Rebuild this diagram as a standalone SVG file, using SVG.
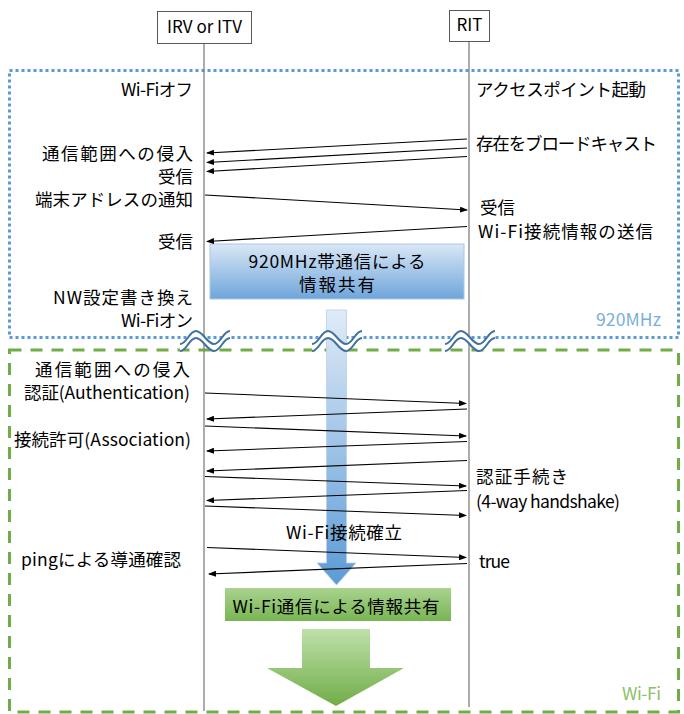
<svg xmlns="http://www.w3.org/2000/svg" width="684" height="714" viewBox="0 0 684 714">
<defs>
<style>
text{font-family:"Noto Sans CJK JP","Noto Sans",sans-serif;font-size:17.5px;fill:#000}
.e{text-anchor:end}
.m{text-anchor:middle}
.life{stroke:#808080;stroke-width:1.3;fill:none}
.box{fill:#fff;stroke:#595959;stroke-width:1}
.msg{stroke:#000;stroke-width:1.1;fill:none;marker-end:url(#ah)}
.wave{fill:none;stroke:#41719c;stroke-width:2}
</style>
<marker id="ah" markerUnits="userSpaceOnUse" markerWidth="8" markerHeight="6" refX="7" refY="3" orient="auto">
<path d="M0,0 L8,3 L0,6 Z" fill="#000"/>
</marker>
<linearGradient id="gb" x1="0" y1="0" x2="0" y2="1">
<stop offset="0" stop-color="#dae7f6"/>
<stop offset="1" stop-color="#6ea5da"/>
</linearGradient>
<linearGradient id="gshaft" gradientUnits="userSpaceOnUse" x1="0" y1="310" x2="0" y2="585">
<stop offset="0" stop-color="#e1ebf7"/>
<stop offset="1" stop-color="#5b9bd5"/>
</linearGradient>
<linearGradient id="gg" x1="0" y1="0" x2="0" y2="1">
<stop offset="0" stop-color="#a9d38f"/>
<stop offset="1" stop-color="#78b553"/>
</linearGradient>
<linearGradient id="gga" gradientUnits="userSpaceOnUse" x1="0" y1="629" x2="0" y2="706">
<stop offset="0" stop-color="#bfe0ab"/>
<stop offset="1" stop-color="#70ad47"/>
</linearGradient>
<g id="wv">
<path d="M-25,6 C-18,6 -16,-7 -9,-7 C-2,-7 2,6 9,6 C16,6 18,-7 25,-7 L25,0 C18,0 16,13 9,13 C2,13 -2,0 -9,0 C-16,0 -18,13 -25,13 Z" fill="#fff"/>
<path class="wave" d="M-25,6 C-18,6 -16,-7 -9,-7 C-2,-7 2,6 9,6 C16,6 18,-7 25,-7"/>
<path class="wave" d="M-25,13 C-18,13 -16,0 -9,0 C-2,0 2,13 9,13 C16,13 18,0 25,0"/>
</g>
</defs>
<rect width="684" height="714" fill="#fff"/>

<g id="frame-920">
<rect x="9.5" y="70.5" width="669" height="267" fill="none" stroke="#5b9bd5" stroke-width="3" stroke-dasharray="3 3"/>
<text class="e" x="661" y="326" textLength="65" style="fill:#7aaedd">920MHz</text>
</g>
<g id="frame-wifi">
<rect x="9.5" y="350" width="669" height="362" fill="none" stroke="#70ad47" stroke-width="3" stroke-dasharray="12 9"/>
<text class="e" x="661" y="700" textLength="39" style="fill:#8cc168">Wi-Fi</text>
</g>

<g id="info920">
<rect x="210" y="244" width="254" height="55" fill="url(#gb)" stroke="#a9c8e8" stroke-width="1"/>
<text class="m" x="337" y="268" textLength="177">920MHz帯通信による</text>
<text class="m" x="337" y="291" textLength="76">情報共有</text>
</g>

<g id="blue-arrow">
<path d="M326.5,310 H346.5 V563 H356 L336.5,585 L317,563 H326.5 Z" fill="url(#gshaft)" stroke="#b8d1ec" stroke-width="0.8"/>
</g>

<g id="irv">
<line class="life" x1="204" y1="43" x2="204" y2="711"/>
<rect class="box" x="157.5" y="11.5" width="94" height="32"/>
<text class="m" x="204.5" y="33" style="font-size:17px">IRV or ITV</text>
</g>
<g id="rit">
<line class="life" x1="469" y1="41" x2="469" y2="707"/>
<rect class="box" x="449.5" y="10.5" width="40" height="31"/>
<text class="m" x="469.5" y="31" style="font-size:17px">RIT</text>
</g>

<g id="connectors">
<line class="msg" x1="467" y1="139" x2="207" y2="153"/>
<line class="msg" x1="467" y1="148" x2="207" y2="162.5"/>
<line class="msg" x1="467" y1="156.5" x2="207" y2="171.5"/>
<line class="msg" x1="205" y1="195" x2="467" y2="210"/>
<line class="msg" x1="467" y1="226.5" x2="207" y2="241.5"/>
<line class="msg" x1="205" y1="393" x2="466" y2="403.5"/>
<line class="msg" x1="467" y1="409" x2="207" y2="419"/>
<line class="msg" x1="205" y1="426" x2="466" y2="436"/>
<line class="msg" x1="467" y1="441.5" x2="207" y2="451"/>
<line class="msg" x1="467" y1="460.5" x2="207" y2="471"/>
<line class="msg" x1="205" y1="476.5" x2="466" y2="486"/>
<line class="msg" x1="467" y1="490.5" x2="207" y2="500.5"/>
<line class="msg" x1="205" y1="506" x2="466" y2="515.5"/>
<line class="msg" x1="207" y1="547.5" x2="466" y2="557.5"/>
<line class="msg" x1="467" y1="563.5" x2="209" y2="574"/>
</g>

<g id="breaks">
<use href="#wv" x="205" y="338"/>
<use href="#wv" x="337" y="338"/>
<use href="#wv" x="470" y="338"/>
</g>

<g id="labels-left">
<text class="e" x="193" y="96" textLength="72">Wi-Fiオフ</text>
<text class="e" x="193" y="160" textLength="151">通信範囲への侵入</text>
<text class="e" x="193" y="183" textLength="35">受信</text>
<text class="e" x="193" y="206" textLength="158">端末アドレスの通知</text>
<text class="e" x="193" y="248" textLength="35">受信</text>
<text class="e" x="193" y="304" textLength="140">NW設定書き換え</text>
<text class="e" x="193" y="327" textLength="72">Wi-Fiオン</text>
<text class="e" x="190" y="376" textLength="155">通信範囲への侵入</text>
<text class="e" x="190" y="399" textLength="166">認証(Authentication)</text>
<text class="e" x="191" y="446" textLength="177">接続許可(Association)</text>
<text class="e" x="181" y="566" textLength="160">pingによる導通確認</text>
</g>
<g id="labels-right">
<text x="476" y="96" textLength="170">アクセスポイント起動</text>
<text x="476" y="150" textLength="181">存在をブロードキャスト</text>
<text x="480" y="214" textLength="35">受信</text>
<text x="478" y="238" textLength="175">Wi-Fi接続情報の送信</text>
<text x="476" y="483" textLength="92">認証手続き</text>
<text x="476" y="508" textLength="144">(4-way handshake)</text>
<text x="479" y="568" textLength="31">true</text>
</g>
<g id="wifi-established">
<text class="m" x="344" y="539" textLength="116">Wi-Fi接続確立</text>
</g>

<g id="infowifi">
<rect x="225" y="588" width="226" height="33" fill="url(#gg)"/>
<text class="m" x="336" y="613" textLength="207">Wi-Fi通信による情報共有</text>
</g>
<g id="green-arrow">
<path d="M302,629 H370 V668 H404 L336,706 L267,668 H302 Z" fill="url(#gga)"/>
</g>
</svg>
